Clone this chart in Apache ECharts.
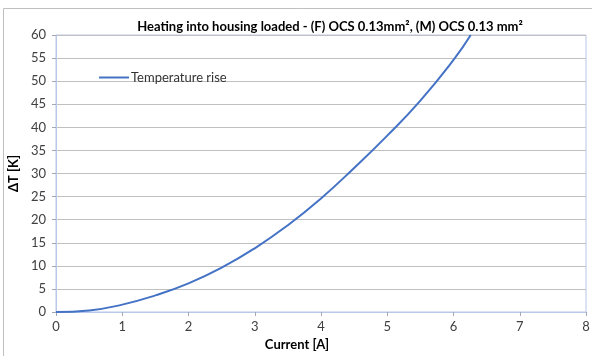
<!DOCTYPE html>
<html><head><meta charset="utf-8">
<script src="https://cdn.jsdelivr.net/npm/echarts@6/dist/echarts.min.js"></script>
<style>html,body{margin:0;padding:0;background:#fff}#c{width:592px;height:356px}</style>
</head><body><div id="c"></div>
<script>
const currentA = [0, 0.5, 1, 1.5, 2, 2.5, 3, 3.5, 4, 4.5, 5, 5.5, 6, 6.26];
const tempRiseK = [0, 0.35, 1.6, 3.6, 6.2, 9.6, 13.8, 18.8, 24.6, 31.2, 38.2, 45.8, 54.6, 60];
const xTicks = [0, 1, 2, 3, 4, 5, 6, 7, 8];
const yTicks = [0, 5, 10, 15, 20, 25, 30, 35, 40, 45, 50, 55, 60];
const seriesName = 'Temperature rise';
const titleText = 'Heating into housing loaded - (F) OCS 0.13mm², (M) OCS 0.13 mm²';

const font = 'Lato, "Liberation Sans", sans-serif';
const chart = echarts.init(document.getElementById('c'), null, {renderer: 'canvas'});
chart.setOption({
  animation: false,
  backgroundColor: '#fff',
  graphic: [{type: 'rect', shape: {x: 3.5, y: 8.5, width: 620, height: 400}, style: {fill: 'none', stroke: '#bfbfbf', lineWidth: 1}, silent: true}],
  title: {text: titleText, left: 325, top: 15, textAlign: 'center',
    textStyle: {fontFamily: font, fontSize: 13, fontWeight: 'bold', color: '#000'}},
  legend: {data: [seriesName], left: 94, top: 66, itemWidth: 30, itemHeight: 2, itemGap: 2,
    icon: 'rect', textStyle: {fontFamily: font, fontSize: 13, color: '#333', padding: [0,0,0,-3]}},
  grid: {left: 56, right: 6, top: 35, bottom: 44, show: true, borderColor: '#b9c8e8', borderWidth: 1,
    containLabel: false, outerBoundsMode: 'none'},
  xAxis: {type: 'value', min: xTicks[0], max: xTicks[xTicks.length-1], interval: 1,
    name: 'Current [A]', nameLocation: 'middle', nameGap: 25,
    nameTextStyle: {fontFamily: font, fontSize: 13, fontWeight: 'bold', color: '#000', padding: [0,0,0,-48]},
    axisLine: {lineStyle: {color: '#b9c8e8'}},
    axisTick: {show: true, length: 4, lineStyle: {color: '#a0a8b8'}},
    axisLabel: {fontFamily: font, fontSize: 13, color: '#404040', margin: 8},
    splitLine: {show: false}},
  yAxis: {type: 'value', min: yTicks[0], max: yTicks[yTicks.length-1], interval: 5,
    name: 'ΔT [K]', nameLocation: 'middle', nameGap: 36, nameRotate: 90,
    nameTextStyle: {fontFamily: font, fontSize: 13, fontWeight: 'bold', color: '#000'},
    axisLine: {show: true, lineStyle: {color: '#b9c8e8'}},
    axisTick: {show: true, length: 4, lineStyle: {color: '#a0a8b8'}},
    axisLabel: {fontFamily: font, fontSize: 13, color: '#404040', margin: 10},
    splitLine: {show: true, lineStyle: {color: '#c0c0c0', width: 1}}},
  series: [{name: seriesName, type: 'line', smooth: true, showSymbol: false,
    data: currentA.map((x, i) => [x, tempRiseK[i]]),
    lineStyle: {color: '#4472c4', width: 2}, itemStyle: {color: '#4472c4'}, clip: true}]
});
</script></body></html>
